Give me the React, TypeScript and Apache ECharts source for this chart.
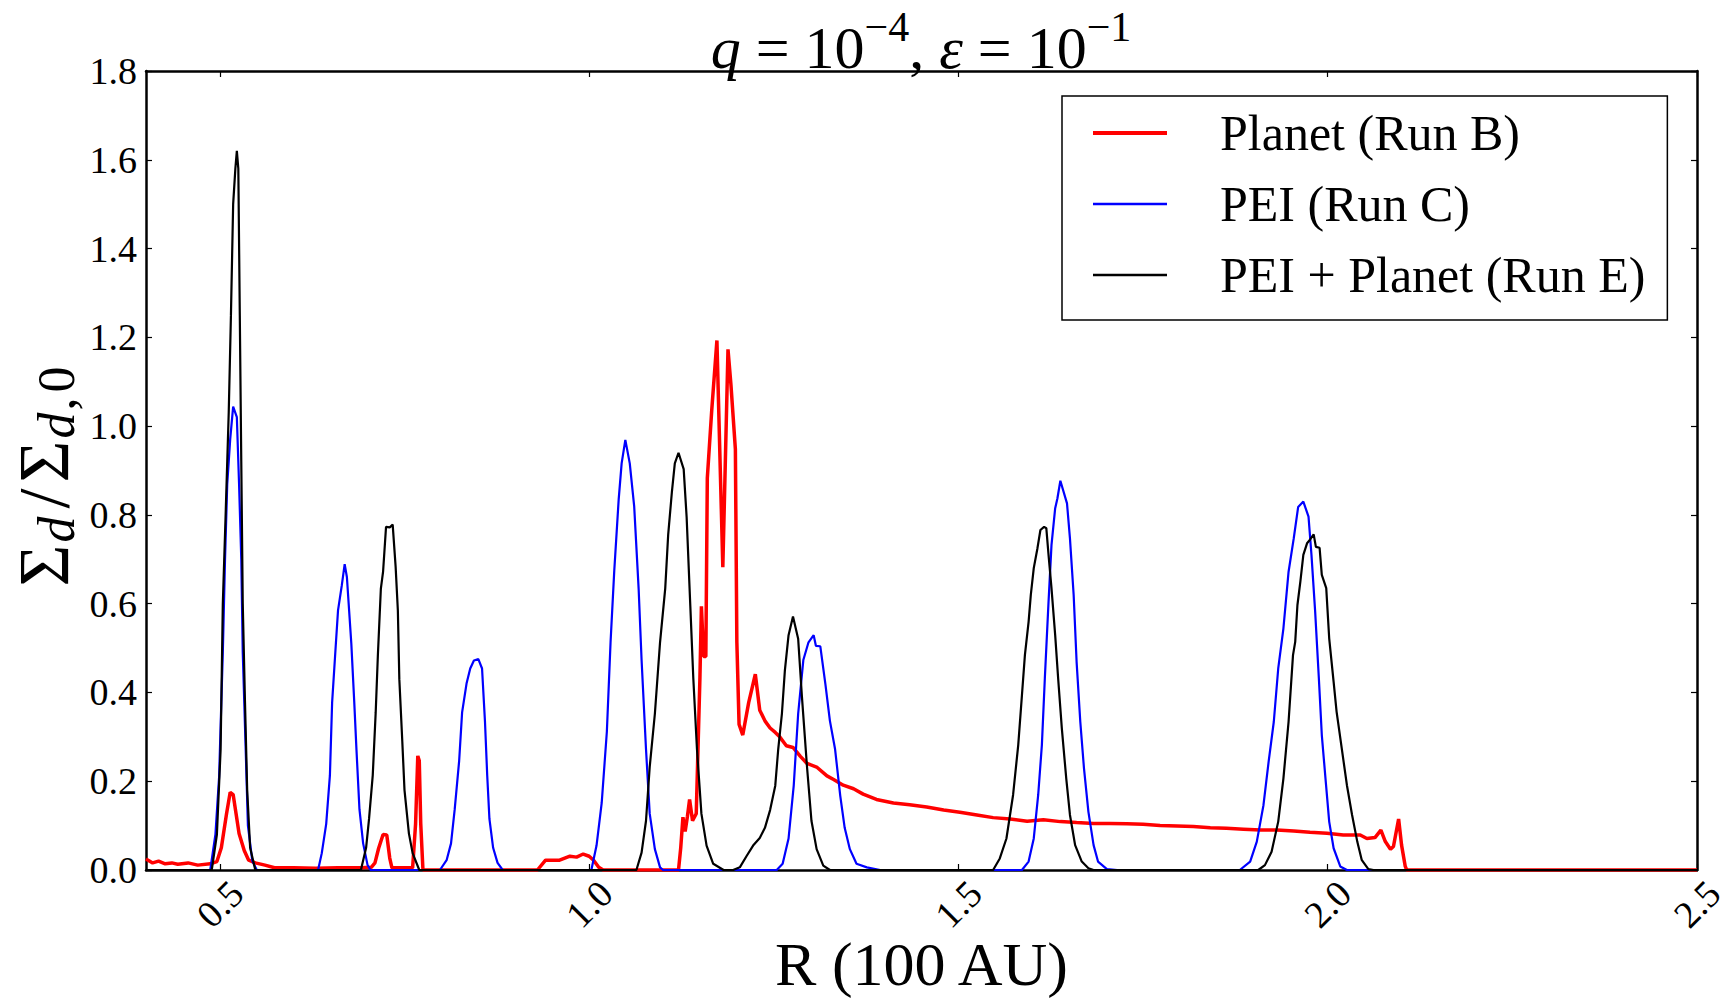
import React, { useEffect, useRef } from "react";
import * as echarts from "echarts";

// ---- data (R in 100 AU, Sigma_d / Sigma_d,0) ----
const xTickValues = [0.5, 1.0, 1.5, 2.0, 2.5];

const planetRunB: [number, number][] = [
  [0.400, 0.025], [0.409, 0.016], [0.417, 0.020], [0.426, 0.014], [0.435, 0.016], [0.443, 0.013],
  [0.457, 0.016], [0.470, 0.011], [0.487, 0.014], [0.496, 0.019], [0.502, 0.050], [0.509, 0.126],
  [0.514, 0.175], [0.518, 0.170], [0.522, 0.126], [0.526, 0.082], [0.533, 0.044], [0.539, 0.022],
  [0.548, 0.016], [0.561, 0.011], [0.574, 0.005], [0.600, 0.005], [0.630, 0.004], [0.660, 0.005],
  [0.690, 0.005], [0.705, 0.006], [0.710, 0.016], [0.715, 0.049], [0.721, 0.080], [0.726, 0.079],
  [0.730, 0.027], [0.733, 0.005], [0.761, 0.005], [0.765, 0.104], [0.768, 0.257], [0.770, 0.246],
  [0.772, 0.104], [0.775, 0.000], [0.930, 0.000], [0.941, 0.022], [0.960, 0.022], [0.974, 0.031],
  [0.983, 0.029], [0.992, 0.036], [1.000, 0.031], [1.006, 0.022], [1.013, 0.006], [1.019, 0.000],
  [1.121, 0.000], [1.124, 0.050], [1.127, 0.119], [1.130, 0.087], [1.133, 0.120], [1.136, 0.159],
  [1.140, 0.111], [1.145, 0.127], [1.150, 0.433], [1.152, 0.594], [1.155, 0.481], [1.158, 0.481],
  [1.160, 0.883], [1.166, 1.036], [1.173, 1.193], [1.181, 0.682], [1.188, 1.173], [1.192, 1.093],
  [1.198, 0.948], [1.200, 0.513], [1.203, 0.328], [1.208, 0.304], [1.216, 0.377], [1.225, 0.441],
  [1.231, 0.360], [1.238, 0.336], [1.245, 0.320], [1.252, 0.310], [1.258, 0.300], [1.267, 0.280],
  [1.276, 0.276], [1.286, 0.256], [1.295, 0.240], [1.308, 0.232], [1.322, 0.212], [1.331, 0.204],
  [1.344, 0.191], [1.358, 0.183], [1.371, 0.171], [1.389, 0.159], [1.412, 0.151], [1.434, 0.147],
  [1.457, 0.142], [1.480, 0.135], [1.502, 0.130], [1.525, 0.124], [1.547, 0.118], [1.570, 0.115],
  [1.593, 0.110], [1.615, 0.113], [1.638, 0.109], [1.660, 0.107], [1.683, 0.105], [1.705, 0.105],
  [1.728, 0.104], [1.750, 0.103], [1.773, 0.100], [1.796, 0.099], [1.818, 0.098], [1.841, 0.095],
  [1.863, 0.094], [1.886, 0.092], [1.909, 0.090], [1.931, 0.090], [1.954, 0.088], [1.976, 0.085],
  [1.999, 0.083], [2.021, 0.079], [2.044, 0.079], [2.053, 0.071], [2.064, 0.073], [2.072, 0.090],
  [2.078, 0.064], [2.085, 0.047], [2.089, 0.053], [2.096, 0.115], [2.100, 0.056], [2.105, 0.008],
  [2.107, 0.000], [2.500, 0.000],
];

const peiRunC: [number, number][] = [
  [0.400, 0.000], [0.487, 0.000], [0.494, 0.080], [0.499, 0.210], [0.504, 0.490], [0.507, 0.700],
  [0.510, 0.870], [0.514, 0.970], [0.518, 1.044], [0.523, 1.020], [0.526, 0.870], [0.529, 0.700],
  [0.531, 0.490], [0.535, 0.270], [0.538, 0.100], [0.544, 0.020], [0.550, 0.000],
  [0.633, 0.000], [0.638, 0.038], [0.644, 0.104], [0.649, 0.213], [0.652, 0.377], [0.657, 0.508],
  [0.660, 0.585], [0.665, 0.640], [0.669, 0.689], [0.672, 0.660], [0.678, 0.510], [0.682, 0.377],
  [0.685, 0.270], [0.689, 0.137], [0.694, 0.060], [0.700, 0.011], [0.704, 0.000],
  [0.798, 0.000], [0.807, 0.022], [0.813, 0.060], [0.818, 0.137], [0.824, 0.246], [0.828, 0.355],
  [0.834, 0.420], [0.839, 0.454], [0.844, 0.472], [0.850, 0.475], [0.855, 0.454], [0.859, 0.333],
  [0.862, 0.213], [0.865, 0.115], [0.870, 0.050], [0.876, 0.016], [0.883, 0.000],
  [1.003, 0.000], [1.010, 0.055], [1.017, 0.151], [1.024, 0.312], [1.029, 0.513], [1.034, 0.674],
  [1.040, 0.835], [1.044, 0.916], [1.049, 0.969], [1.055, 0.916], [1.061, 0.819], [1.067, 0.634],
  [1.071, 0.473], [1.077, 0.272], [1.082, 0.127], [1.089, 0.047], [1.096, 0.006], [1.100, 0.000],
  [1.254, 0.000], [1.262, 0.014], [1.270, 0.071], [1.277, 0.190], [1.283, 0.352], [1.290, 0.473],
  [1.297, 0.513], [1.304, 0.529], [1.307, 0.505], [1.313, 0.504], [1.320, 0.417], [1.326, 0.336],
  [1.333, 0.272], [1.340, 0.167], [1.346, 0.095], [1.353, 0.047], [1.362, 0.014], [1.376, 0.006],
  [1.394, 0.000],
  [1.586, 0.000], [1.595, 0.019], [1.602, 0.071], [1.608, 0.169], [1.613, 0.282], [1.617, 0.432],
  [1.622, 0.604], [1.626, 0.732], [1.631, 0.815], [1.634, 0.837], [1.638, 0.877], [1.647, 0.826],
  [1.651, 0.747], [1.656, 0.620], [1.660, 0.469], [1.665, 0.334], [1.670, 0.229], [1.676, 0.131],
  [1.683, 0.056], [1.689, 0.019], [1.701, 0.002], [1.715, 0.000],
  [1.881, 0.000], [1.895, 0.019], [1.904, 0.064], [1.913, 0.146], [1.920, 0.244], [1.927, 0.334],
  [1.933, 0.454], [1.940, 0.544], [1.947, 0.672], [1.954, 0.747], [1.960, 0.818], [1.967, 0.830],
  [1.974, 0.796], [1.978, 0.710], [1.983, 0.582], [1.988, 0.432], [1.992, 0.304], [1.997, 0.206],
  [2.002, 0.109], [2.008, 0.049], [2.017, 0.008], [2.026, 0.000], [2.500, 0.000],
];

const peiPlanetRunE: [number, number][] = [
  [0.400, 0.000], [0.489, 0.000], [0.496, 0.080], [0.501, 0.270], [0.504, 0.600], [0.508, 0.810],
  [0.512, 1.030], [0.515, 1.250], [0.518, 1.500], [0.521, 1.580], [0.523, 1.620], [0.525, 1.580],
  [0.527, 1.250], [0.529, 0.920], [0.531, 0.600], [0.534, 0.380], [0.537, 0.180], [0.541, 0.050],
  [0.548, 0.000],
  [0.691, 0.000], [0.698, 0.050], [0.702, 0.115], [0.707, 0.213], [0.711, 0.355], [0.714, 0.486],
  [0.718, 0.634], [0.721, 0.672], [0.725, 0.773], [0.730, 0.772], [0.734, 0.778], [0.738, 0.683],
  [0.741, 0.585], [0.743, 0.430], [0.747, 0.290], [0.750, 0.180], [0.756, 0.082], [0.761, 0.038],
  [0.770, 0.000],
  [1.064, 0.000], [1.071, 0.039], [1.077, 0.111], [1.082, 0.232], [1.089, 0.352], [1.096, 0.513],
  [1.103, 0.634], [1.107, 0.755], [1.112, 0.851], [1.116, 0.916], [1.121, 0.940], [1.128, 0.903],
  [1.132, 0.795], [1.137, 0.594], [1.141, 0.433], [1.146, 0.272], [1.152, 0.127], [1.159, 0.055],
  [1.168, 0.014], [1.182, 0.000], [1.195, 0.000], [1.204, 0.006], [1.213, 0.031], [1.222, 0.055],
  [1.231, 0.072], [1.238, 0.095], [1.245, 0.135], [1.252, 0.190], [1.256, 0.272], [1.261, 0.352],
  [1.265, 0.449], [1.270, 0.529], [1.276, 0.571], [1.283, 0.521], [1.288, 0.393], [1.295, 0.232],
  [1.301, 0.111], [1.308, 0.047], [1.317, 0.010], [1.326, 0.000],
  [1.547, 0.000], [1.556, 0.026], [1.565, 0.071], [1.574, 0.169], [1.581, 0.282], [1.586, 0.394],
  [1.590, 0.484], [1.595, 0.559], [1.598, 0.620], [1.602, 0.680], [1.607, 0.725], [1.611, 0.766],
  [1.616, 0.773], [1.619, 0.770], [1.622, 0.710], [1.626, 0.635], [1.631, 0.529], [1.635, 0.432],
  [1.640, 0.319], [1.646, 0.206], [1.651, 0.124], [1.658, 0.056], [1.667, 0.019], [1.676, 0.004],
  [1.683, 0.000],
  [1.906, 0.000], [1.915, 0.011], [1.924, 0.041], [1.933, 0.109], [1.940, 0.206], [1.947, 0.334],
  [1.953, 0.484], [1.956, 0.514], [1.959, 0.597], [1.963, 0.650], [1.967, 0.710], [1.972, 0.736],
  [1.976, 0.744], [1.981, 0.756], [1.984, 0.728], [1.989, 0.726], [1.992, 0.665], [1.998, 0.635],
  [2.002, 0.522], [2.008, 0.424], [2.012, 0.357], [2.019, 0.274], [2.026, 0.191], [2.033, 0.124],
  [2.040, 0.064], [2.046, 0.023], [2.055, 0.002], [2.062, 0.000], [2.500, 0.000],
];

const seriesNames = ["Planet (Run B)", "PEI (Run C)", "PEI + Planet (Run E)"];
const seriesColors = ["#ff0000", "#0000ff", "#000000"];

const SERIF = "'Liberation Serif', 'DejaVu Serif', serif";

export default function App() {
  const ref = useRef<HTMLDivElement>(null);

  useEffect(() => {
    if (!ref.current) return;
    const chart = echarts.init(ref.current, undefined, { renderer: "svg" });

    const tickFmt = (v: number) => v.toFixed(1);
    const axisLineStyle = { color: "#000", width: 2.5 };
    const tickStyle = { color: "#000", width: 1.2 };

    const option: any = {
      animation: false,
      backgroundColor: "#fff",
      textStyle: { fontFamily: SERIF, fontWeight: "normal", color: "#000" },
      title: {
        text: "{i|q}{n| = 10}{s|\u22124}{n|, }{i|\u03b5}{n| = 10}{s|\u22121}",
        left: 921,
        textAlign: "center",
        top: 6,
        padding: 0,
        textStyle: {
          fontFamily: SERIF,
          fontWeight: "normal",
          rich: {
            i: { fontFamily: SERIF, fontStyle: "italic", fontWeight: "normal", fontSize: 60, color: "#000", lineHeight: 72, verticalAlign: "bottom" },
            n: { fontFamily: SERIF, fontWeight: "normal", fontSize: 60, color: "#000", lineHeight: 72, verticalAlign: "bottom" },
            s: { fontFamily: SERIF, fontWeight: "normal", fontSize: 42, color: "#000", lineHeight: 40, verticalAlign: "top" },
          },
        },
      },
      legend: {
        orient: "vertical",
        left: 1062,
        top: 96,
        selectedMode: false,
        data: [
          { name: seriesNames[0], icon: "path://M0,0H74V4H0Z" },
          { name: seriesNames[1], icon: "path://M0,0H74V2.6H0Z" },
          { name: seriesNames[2], icon: "path://M0,0H74V2.6H0Z" },
        ],
        itemWidth: 74,
        itemHeight: 14,
        itemGap: 21,
        padding: [12, 22, 20, 31],
        borderColor: "#000",
        borderWidth: 1.5,
        borderRadius: 0,
        backgroundColor: "#fff",
        itemStyle: { borderWidth: 0 },
        textStyle: {
          fontFamily: SERIF,
          fontSize: 50,
          color: "#000",
          lineHeight: 50,
          padding: [0, 0, 0, 48],
        },
      },
      grid: { left: 146, right: 38, top: 71, bottom: 136, containLabel: false, outerBoundsMode: "none" },
      xAxis: [
        {
          type: "value",
          position: "bottom",
          min: 0.4,
          max: 2.5,
          axisLine: { show: true, onZero: false, lineStyle: axisLineStyle },
          axisTick: { show: true, inside: true, length: 6, customValues: xTickValues, lineStyle: tickStyle },
          axisLabel: {
            show: true,
            customValues: xTickValues,
            formatter: tickFmt,
            rotate: 45,
            align: "center",
            verticalAlign: "middle",
            margin: 34,
            fontFamily: SERIF,
            fontSize: 38,
            color: "#000",
          },
          splitLine: { show: false },
          name: "R (100 AU)",
          nameLocation: "middle",
          nameGap: 63,
          nameMoveOverlap: false,
          nameTextStyle: { fontFamily: SERIF, fontSize: 62, color: "#000" },
        },
        {
          type: "value",
          position: "top",
          min: 0.4,
          max: 2.5,
          axisLine: { show: true, onZero: false, lineStyle: axisLineStyle },
          axisTick: { show: true, inside: true, length: 6, customValues: xTickValues, lineStyle: tickStyle },
          axisLabel: { show: false },
          splitLine: { show: false },
        },
      ],
      yAxis: [
        {
          type: "value",
          position: "left",
          min: 0,
          max: 1.8,
          interval: 0.2,
          axisLine: { show: true, onZero: false, lineStyle: axisLineStyle },
          axisTick: { show: true, inside: true, length: 6, lineStyle: tickStyle },
          axisLabel: { formatter: tickFmt, margin: 9, fontFamily: SERIF, fontSize: 38, color: "#000" },
          splitLine: { show: false },
          name: "{S|\u03a3}{d|d}{sl|/}{S|\u03a3}{d|d}{c|,}{z|0}",
          nameLocation: "middle",
          nameRotate: 90,
          nameGap: 64,
          nameMoveOverlap: false,
          nameTextStyle: {
            fontFamily: SERIF,
            padding: [0, 14, 0, 0],
            rich: {
              S: { fontFamily: SERIF, fontSize: 72, color: "#000", lineHeight: 76, verticalAlign: "middle", padding: [0, 2, 0, 2] },
              sl: { fontFamily: SERIF, fontSize: 72, color: "#000", lineHeight: 76, verticalAlign: "middle", padding: [0, 4, 0, 6] },
              d: { fontFamily: SERIF, fontStyle: "italic", fontSize: 52, color: "#000", lineHeight: 28, verticalAlign: "bottom", padding: [0, 2, 0, 0] },
              c: { fontFamily: SERIF, fontSize: 52, color: "#000", lineHeight: 28, verticalAlign: "bottom", padding: [0, 5, 0, 0] },
              z: { fontFamily: SERIF, fontSize: 52, color: "#000", lineHeight: 28, verticalAlign: "bottom" },
            },
          },
        },
        {
          type: "value",
          position: "right",
          min: 0,
          max: 1.8,
          interval: 0.2,
          axisLine: { show: true, onZero: false, lineStyle: axisLineStyle },
          axisTick: { show: true, inside: true, length: 6, lineStyle: tickStyle },
          axisLabel: { show: false },
          splitLine: { show: false },
        },
      ],
      series: [planetRunB, peiRunC, peiPlanetRunE].map((d, i) => ({
        type: "line",
        name: seriesNames[i],
        xAxisIndex: 0,
        yAxisIndex: 0,
        data: d,
        symbol: "none",
        showSymbol: false,
        color: seriesColors[i],
        lineStyle: { color: seriesColors[i], width: i === 0 ? 3.5 : 2.2 },
        z: 2 + i,
        emphasis: { disabled: true },
        silent: true,
      })),
    };

    chart.setOption(option);
    return () => chart.dispose();
  }, []);

  return (
    <div
      ref={ref}
      style={{ position: "fixed", left: 0, top: 0, width: "1735px", height: "1006px", background: "#fff" }}
    />
  );
}
